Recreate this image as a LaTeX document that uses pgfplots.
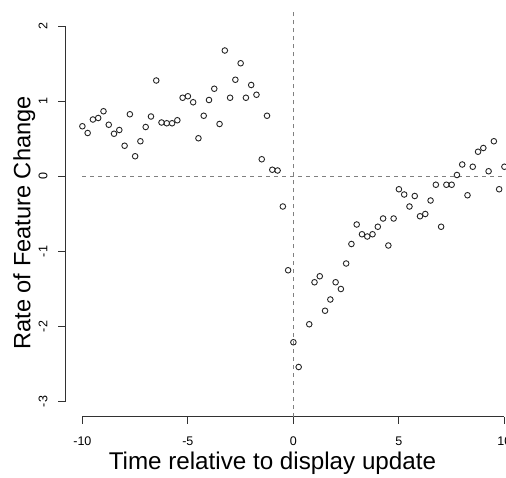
\documentclass[border=0pt]{standalone}
\usepackage{pgfplots}
\pgfplotsset{compat=1.18}
\usepackage{fontspec}
\setmainfont{Liberation Sans}

\definecolor{refline}{RGB}{128,128,128}
\definecolor{axcol}{RGB}{50,50,50}

\begin{document}
\begin{tikzpicture}
	\begin{axis}[
		at={(0,0)}, anchor=south west,
		scale only axis,
		width=455.8pt, height=405pt,
		xmin=-10.8, xmax=10.8, ymin=-3.2, ymax=2.2,
		axis x line*=bottom, axis y line*=left,
		x axis line style={draw=none},
		y axis line style={draw=none},
		tick align=outside,
		major tick length=7pt,
		major tick style={draw=axcol, line width=1pt},
		xtick={-10,-5,0,5,10}, xticklabels={-10,-5,0,5,10},
		ytick={-3,-2,-1,0,1,2}, yticklabels={-3,-2,-1,0,1,2},
		x tick label style={font=\fontsize{12.5}{15}\selectfont, anchor=base, yshift=-22pt},
		y tick label style={font=\fontsize{12.5}{15}\selectfont, xshift=-11pt, rotate=90, anchor=base},
		every axis x label/.style={at={(rel axis cs:0.454,0)}, anchor=base, yshift=-53.3pt},
		every axis y label/.style={at={(rel axis cs:0,0.478)}, xshift=-35pt, rotate=90, anchor=base},
		xlabel={\fontsize{24.2}{28}\selectfont Time relative to display update},
		ylabel={\fontsize{23.6}{28}\selectfont Rate of Feature Change},
		clip=false,
		]
		% R-style detached axis lines
		\addplot[axcol, line width=1pt] coordinates {(-10,-3.2) (10,-3.2)};
		\addplot[axcol, line width=1pt] coordinates {(-10.8,-3) (-10.8,2)};
		% reference lines
		\addplot[refline, line width=1pt, dash pattern=on 4pt off 4pt] coordinates {(-10,0) (10.8,0)};
		\addplot[refline, line width=1pt, dash pattern=on 4pt off 4pt] coordinates {(0,-3.2) (0,2.2)};
		% points
		\addplot[only marks, mark=o, mark size=2.8pt, draw=black!85, mark options={line width=0.9pt}]
		table {
			x y
			-10.00 0.67
			-9.75 0.58
			-9.50 0.76
			-9.25 0.78
			-9.00 0.87
			-8.75 0.69
			-8.50 0.57
			-8.25 0.62
			-8.00 0.41
			-7.75 0.83
			-7.50 0.27
			-7.25 0.47
			-7.00 0.66
			-6.75 0.80
			-6.50 1.28
			-6.25 0.72
			-6.00 0.71
			-5.75 0.71
			-5.50 0.75
			-5.25 1.05
			-5.00 1.07
			-4.75 0.99
			-4.50 0.51
			-4.25 0.81
			-4.00 1.02
			-3.75 1.17
			-3.50 0.70
			-3.25 1.68
			-3.00 1.05
			-2.75 1.29
			-2.50 1.51
			-2.25 1.05
			-2.00 1.22
			-1.75 1.09
			-1.50 0.23
			-1.25 0.81
			-1.00 0.09
			-0.75 0.08
			-0.50 -0.40
			-0.25 -1.25
			0.00 -2.21
			0.25 -2.54
			0.75 -1.97
			1.00 -1.41
			1.25 -1.33
			1.50 -1.79
			1.75 -1.64
			2.00 -1.41
			2.25 -1.50
			2.50 -1.16
			2.75 -0.90
			3.00 -0.64
			3.25 -0.77
			3.50 -0.80
			3.75 -0.77
			4.00 -0.67
			4.25 -0.56
			4.50 -0.92
			4.75 -0.56
			5.00 -0.17
			5.25 -0.24
			5.50 -0.40
			5.75 -0.26
			6.00 -0.53
			6.25 -0.50
			6.50 -0.32
			6.75 -0.11
			7.00 -0.67
			7.25 -0.11
			7.50 -0.11
			7.75 0.02
			8.00 0.16
			8.25 -0.25
			8.50 0.13
			8.75 0.33
			9.00 0.38
			9.25 0.07
			9.50 0.47
			9.75 -0.17
			10.00 0.13
		};
	\end{axis}
	\pgfresetboundingbox
	\useasboundingbox (-65.5pt,-60.5pt) rectangle (440.5pt,416.5pt);
\end{tikzpicture}
\end{document}
